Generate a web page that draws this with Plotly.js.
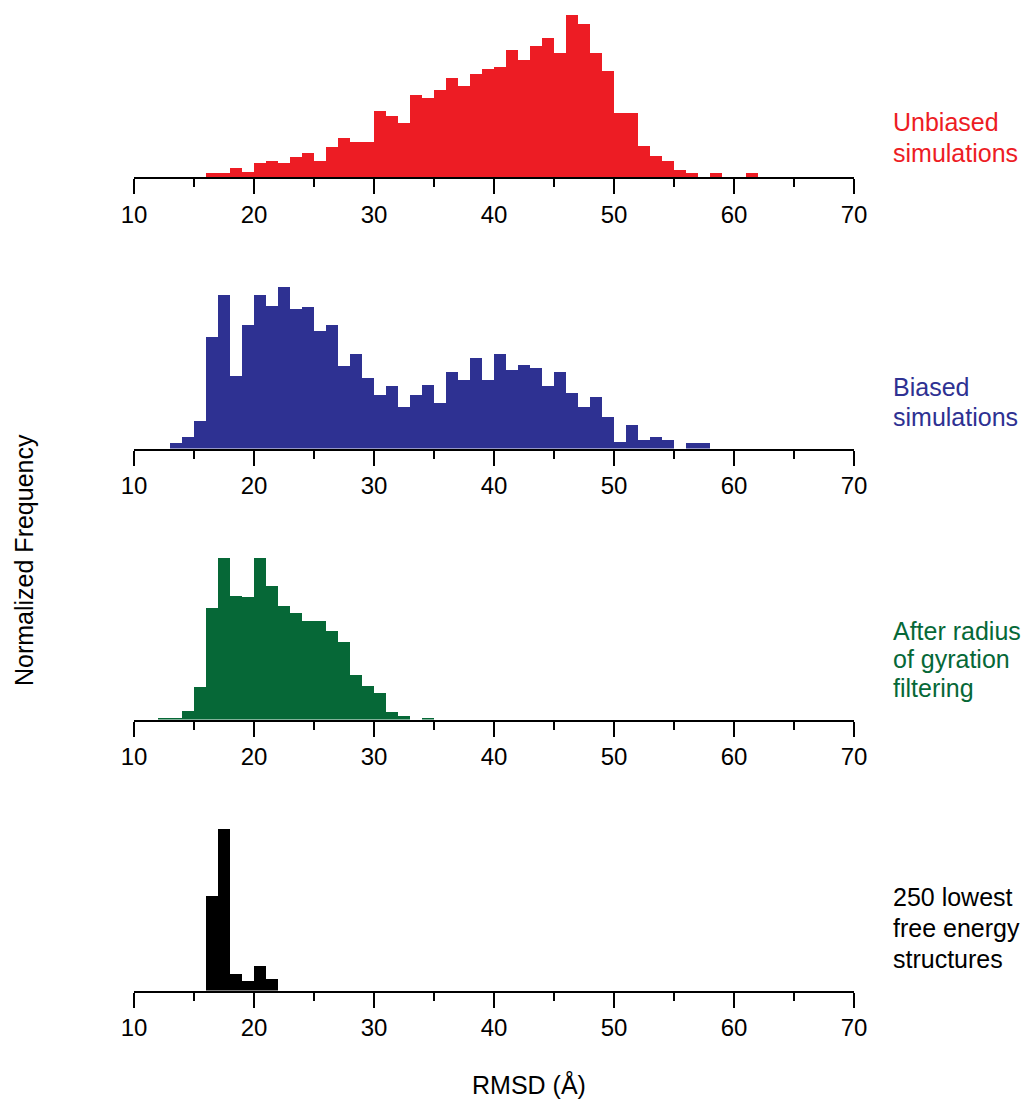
<!DOCTYPE html>
<html>
<head>
<meta charset="utf-8">
<script src="https://cdn.plot.ly/plotly-3.0.1.min.js"></script>
<style>
  html, body { margin: 0; padding: 0; background: #ffffff; }
  #chart { width: 1030px; height: 1103px; }
</style>
</head>
<body>
<div id="chart"></div>
<script>
// ---- Data (bin left edges in Å, normalized frequency as % of each panel's peak) ----
const unbiasedBins = [16,17,18,19,20,21,22,23,24,25,26,27,28,29,30,31,32,33,34,35,36,37,38,39,40,41,42,43,44,45,46,47,48,49,50,51,52,53,54,55,56,57,58,59,60,61];
const unbiasedFreq = [2.3,2.3,5.6,3.1,8.7,9.7,8.5,12.2,15.1,9.7,18.6,23.9,21.6,21.6,41.0,37.7,33.4,50.5,48.5,54.0,61.0,56.1,63.5,66.8,67.8,78.6,72.2,80.6,85.8,76.5,100,94.6,76.7,65.6,39.6,39.6,19.4,13.0,9.7,4.3,2.3,0,2.3,0,0,2.3];

const biasedBins = [13,14,15,16,17,18,19,20,21,22,23,24,25,26,27,28,29,30,31,32,33,34,35,36,37,38,39,40,41,42,43,44,45,46,47,48,49,50,51,52,53,54,55,56,57];
const biasedFreq = [3.1,6.8,16.8,68.6,94.7,44.7,76.2,94.7,87.7,100,86.1,87.5,72.3,76.2,51.0,58.4,43.4,33.2,38.3,25.8,33.2,39.5,28.1,47.1,42.2,55.9,42.0,58.4,48.6,51.8,49.6,38.3,47.1,34.4,25.8,32.0,19.5,4.3,14.3,5.5,7.0,5.5,0,3.1,3.1];

const filteredBins = [12,13,14,15,16,17,18,19,20,21,22,23,24,25,26,27,28,29,30,31,32,33,34];
const filteredFreq = [0.8,0.8,5.4,20.1,68.7,99.4,76.1,75.5,100,82.4,70.3,65.8,60.6,61.0,54.8,47.7,27.4,20.7,16.2,4.4,2.1,0,0.8];

const lowestBins = [16,17,18,19,20,21];
const lowestFreq = [58.6,100,9.9,5.8,15.2,7.4];

const xTickVals = [10,20,30,40,50,60,70];
const xTickText = ["10","20","30","40","50","60","70"];

const panelLabels = [
  ["Unbiased", "simulations"],
  ["Biased", "simulations"],
  ["After radius", "of gyration", "filtering"],
  ["250 lowest", "free energy", "structures"]
];
const panelColors = ["#ED1C24", "#2E3192", "#066837", "#000000"];
const xTitle = "RMSD (Å)";
const yTitle = "Normalized Frequency";

// ---- Layout helpers (pixel geometry) ----
const W = 1030, H = 1103;
const FONT = "Liberation Sans, Arial, Helvetica, sans-serif";
const baseline = [177, 448.5, 719.5, 990.5];
const barTop = 162;
const labelCenters = [
  [122.3, 153],
  [387, 417],
  [630.6, 659.3, 688.3],
  [897, 928, 959]
];

const series = [
  [unbiasedBins, unbiasedFreq],
  [biasedBins, biasedFreq],
  [filteredBins, filteredFreq],
  [lowestBins, lowestFreq]
];

const traces = [];
const layout = {
  width: W, height: H,
  margin: {l: 0, r: 0, t: 0, b: 0},
  paper_bgcolor: "#ffffff",
  plot_bgcolor: "rgba(0,0,0,0)",
  showlegend: false,
  bargap: 0,
  font: {family: FONT, color: "#000000"},
  annotations: []
};

series.forEach((s, i) => {
  const n = i === 0 ? "" : String(i + 1);
  traces.push({
    type: "bar",
    x: s[0], y: s[1],
    offset: 0, width: 1,
    marker: {color: panelColors[i], line: {width: 0}},
    xaxis: "x" + n, yaxis: "y" + n,
    hoverinfo: "skip"
  });
  layout["xaxis" + n] = {
    domain: [134 / W, 854 / W],
    anchor: "y" + n,
    range: [10, 70],
    tickmode: "array",
    tickvals: xTickVals,
    ticktext: xTickText,
    ticks: "outside", ticklen: 15, tickwidth: 2, tickcolor: "#000000",
    showline: true, linecolor: "#000000", linewidth: 2,
    showgrid: false, zeroline: false,
    tickfont: {family: FONT, size: 24, color: "#000000"},
    minor: {tickmode: "linear", tick0: 10, dtick: 5, ticks: "outside", ticklen: 8, tickwidth: 2, tickcolor: "#000000", showgrid: false},
    fixedrange: true
  };
  layout["yaxis" + n] = {
    domain: [(H - baseline[i]) / H, (H - baseline[i] + barTop) / H],
    anchor: "x" + n,
    range: [0, 100],
    visible: false,
    fixedrange: true
  };
  panelLabels[i].forEach((t, j) => {
    layout.annotations.push({
      xref: "paper", yref: "paper",
      x: 891 / W, y: 1 - labelCenters[i][j] / H,
      xanchor: "left", yanchor: "middle",
      text: t, showarrow: false,
      font: {family: FONT, size: 25, color: panelColors[i]}
    });
  });
});

layout.annotations.push({
  xref: "paper", yref: "paper",
  x: 529 / W, y: 1 - 1084 / H,
  xanchor: "center", yanchor: "middle",
  text: xTitle, showarrow: false,
  font: {family: FONT, size: 25, color: "#000000"}
});
layout.annotations.push({
  xref: "paper", yref: "paper",
  x: 24 / W, y: 1 - 560 / H,
  xanchor: "center", yanchor: "middle",
  textangle: -90,
  text: yTitle, showarrow: false,
  font: {family: FONT, size: 25, color: "#000000"}
});

Plotly.newPlot("chart", traces, layout, {displayModeBar: false, staticPlot: true});
</script>
</body>
</html>
